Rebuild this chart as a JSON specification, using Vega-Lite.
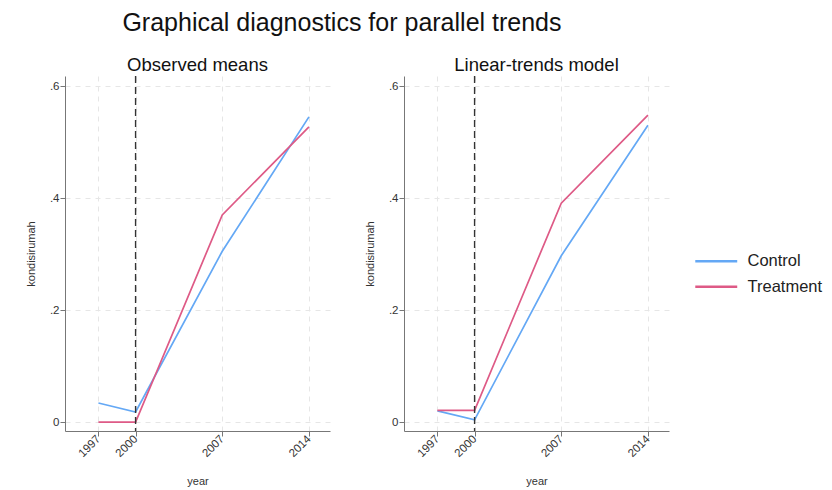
{
  "$schema": "https://vega.github.io/schema/vega-lite/v6.json",
  "background": "white",
  "padding": {"left": 25, "top": 10, "right": 5, "bottom": 5},
  "config": {
    "font": "Liberation Sans",
    "view": {"stroke": null},
    "axis": {
      "domainColor": "#777777",
      "tickColor": "#777777",
      "tickSize": 5,
      "labelColor": "#333333",
      "labelFontSize": 11.5,
      "labelPadding": 1,
      "titleColor": "#333333",
      "titleFontSize": 11,
      "titleFontWeight": "normal",
      "gridColor": "#e6e6e6",
      "gridDash": [5, 5]
    },
    "title": {"color": "#111111"}
  },
  "title": {"text": "Graphical diagnostics for parallel trends", "fontSize": 25, "fontWeight": "normal", "anchor": "start", "dx": 97, "offset": 20},
  "datasets": {
    "d": [
      {"panel": "Observed means", "group": "Control", "year": 1997, "value": 0.034},
      {"panel": "Observed means", "group": "Control", "year": 2000, "value": 0.018},
      {"panel": "Observed means", "group": "Control", "year": 2007, "value": 0.305},
      {"panel": "Observed means", "group": "Control", "year": 2014, "value": 0.545},
      {"panel": "Observed means", "group": "Treatment", "year": 1997, "value": 0.0},
      {"panel": "Observed means", "group": "Treatment", "year": 2000, "value": 0.0},
      {"panel": "Observed means", "group": "Treatment", "year": 2007, "value": 0.37},
      {"panel": "Observed means", "group": "Treatment", "year": 2014, "value": 0.527},
      {"panel": "Linear-trends model", "group": "Control", "year": 1997, "value": 0.02},
      {"panel": "Linear-trends model", "group": "Control", "year": 2000, "value": 0.004},
      {"panel": "Linear-trends model", "group": "Control", "year": 2007, "value": 0.297},
      {"panel": "Linear-trends model", "group": "Control", "year": 2014, "value": 0.53},
      {"panel": "Linear-trends model", "group": "Treatment", "year": 1997, "value": 0.021},
      {"panel": "Linear-trends model", "group": "Treatment", "year": 2000, "value": 0.021},
      {"panel": "Linear-trends model", "group": "Treatment", "year": 2007, "value": 0.391},
      {"panel": "Linear-trends model", "group": "Treatment", "year": 2014, "value": 0.548}
    ],
    "cut": [{"year": 2000}]
  },
  "spacing": 34,
  "hconcat": [
    {
      "title": {"text": "Observed means", "fontSize": 18.5, "fontWeight": "normal", "offset": 1},
      "width": 265,
      "height": 355,
      "layer": [
        {
          "data": {"name": "d"},
          "transform": [{"filter": "datum.panel === 'Observed means'"}],
          "mark": {"type": "line", "strokeWidth": 1.7},
          "encoding": {
            "x": {"field": "year", "type": "quantitative", "scale": {"domain": [1994.3, 2015.7], "nice": false, "zero": false},
                  "axis": {"values": [1997, 2000, 2007, 2014], "format": "d", "labelAngle": -45, "labelAlign": "right", "labelBaseline": "middle", "title": "year", "titlePadding": 17}},
            "y": {"field": "value", "type": "quantitative", "scale": {"domain": [-0.016, 0.618], "nice": false, "zero": false},
                  "axis": {"values": [0, 0.2, 0.4, 0.6], "labelExpr": "datum.value == 0 ? '0' : replace(format(datum.value, '.1f'), '0.', '.')", "title": "kondisirumah", "titlePadding": 13}},
            "color": {"field": "group", "type": "nominal", "scale": {"domain": ["Control", "Treatment"], "range": ["#64a8f5", "#de5a86"]},
                      "legend": {"title": null, "orient": "none", "legendX": 643, "legendY": 177, "symbolType": "M-4,0H4", "symbolSize": 110, "symbolStrokeWidth": 2.5, "labelFontSize": 16.5, "labelColor": "#222222", "rowPadding": 8.5, "labelOffset": 23}}
          }
        },
        {
          "data": {"name": "cut"},
          "mark": {"type": "rule", "strokeDash": [7, 4], "color": "#333333", "strokeWidth": 1.4},
          "encoding": {"x": {"field": "year", "type": "quantitative"}}
        }
      ]
    },
    {
      "title": {"text": "Linear-trends model", "fontSize": 18.5, "fontWeight": "normal", "offset": 1},
      "width": 265,
      "height": 355,
      "layer": [
        {
          "data": {"name": "d"},
          "transform": [{"filter": "datum.panel === 'Linear-trends model'"}],
          "mark": {"type": "line", "strokeWidth": 1.7},
          "encoding": {
            "x": {"field": "year", "type": "quantitative", "scale": {"domain": [1994.3, 2015.7], "nice": false, "zero": false},
                  "axis": {"values": [1997, 2000, 2007, 2014], "format": "d", "labelAngle": -45, "labelAlign": "right", "labelBaseline": "middle", "title": "year", "titlePadding": 17}},
            "y": {"field": "value", "type": "quantitative", "scale": {"domain": [-0.016, 0.618], "nice": false, "zero": false},
                  "axis": {"values": [0, 0.2, 0.4, 0.6], "labelExpr": "datum.value == 0 ? '0' : replace(format(datum.value, '.1f'), '0.', '.')", "title": "kondisirumah", "titlePadding": 13}},
            "color": {"field": "group", "type": "nominal", "scale": {"domain": ["Control", "Treatment"], "range": ["#64a8f5", "#de5a86"]},
                      "legend": {"title": null, "orient": "none", "legendX": 643, "legendY": 177, "symbolType": "M-4,0H4", "symbolSize": 110, "symbolStrokeWidth": 2.5, "labelFontSize": 16.5, "labelColor": "#222222", "rowPadding": 8.5, "labelOffset": 23}}
          }
        },
        {
          "data": {"name": "cut"},
          "mark": {"type": "rule", "strokeDash": [7, 4], "color": "#333333", "strokeWidth": 1.4},
          "encoding": {"x": {"field": "year", "type": "quantitative"}}
        }
      ]
    }
  ]
}
